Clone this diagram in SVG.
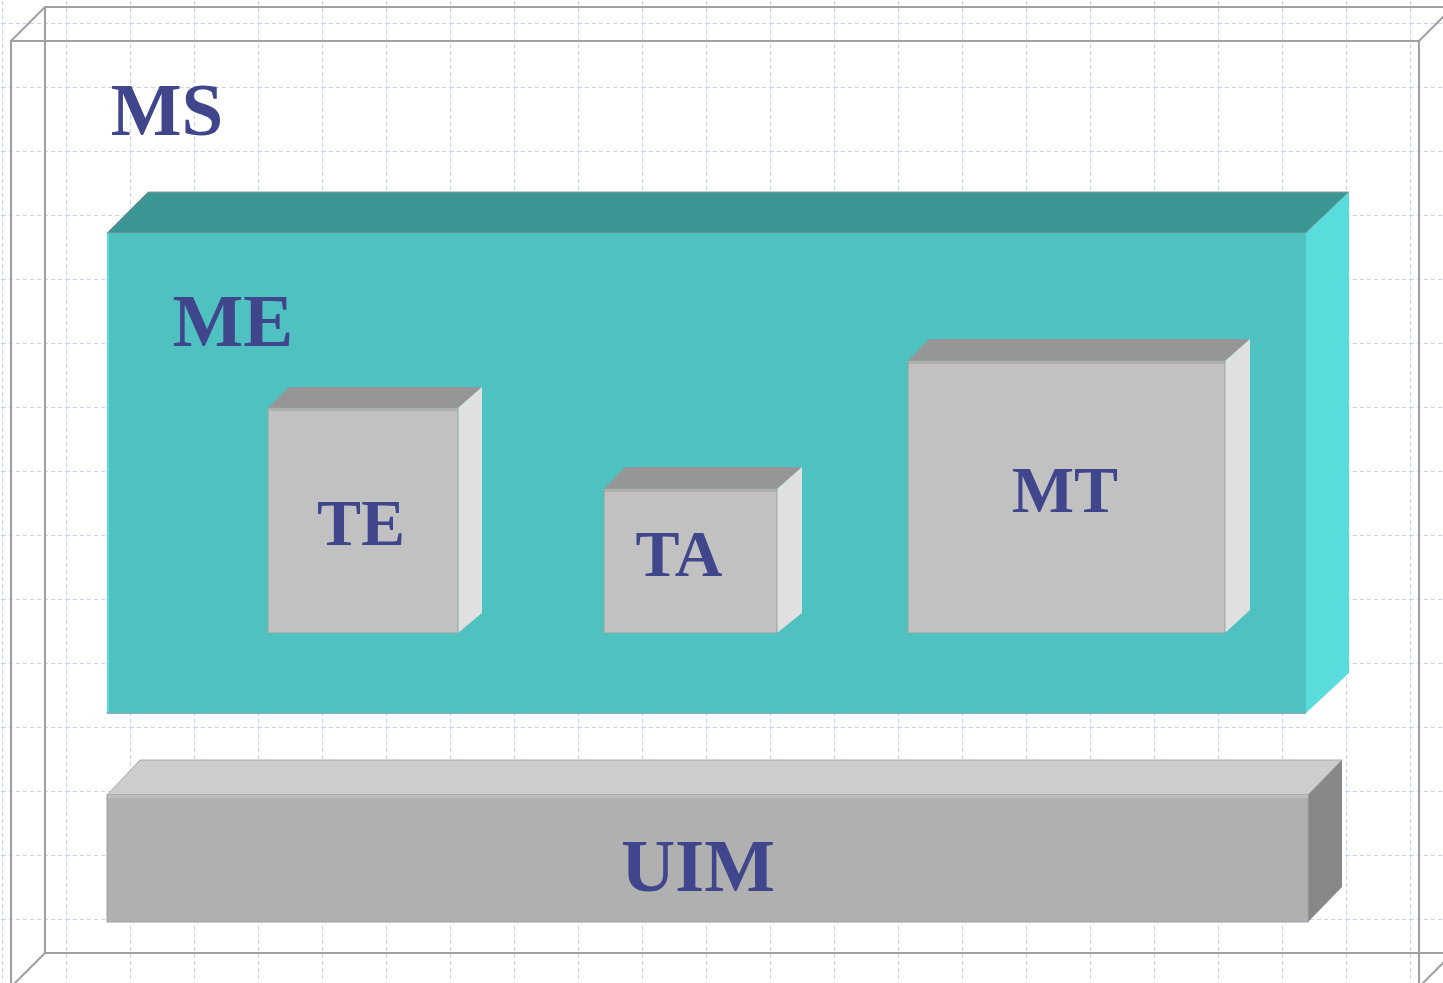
<svg xmlns="http://www.w3.org/2000/svg" width="1443" height="983" viewBox="0 0 1443 983">
  <defs>
    <pattern id="grid" x="2" y="23" width="64" height="64" patternUnits="userSpaceOnUse">
      <path d="M0 0.5 H64" stroke="#c5d2f5" stroke-width="1.2" stroke-dasharray="4 3" fill="none"/>
      <path d="M0.5 0 V64" stroke="#c5d2f5" stroke-width="1.2" stroke-dasharray="4 3" fill="none"/>
    </pattern>
  </defs>
  <style>
    .lbl { font-family: "Liberation Serif", "Times New Roman", serif; font-weight: bold; fill: #40468c; text-anchor: middle; }
    .big { font-size: 75px; }
    .small { font-size: 66px; }
    .frame { fill: none; stroke: #a0a0a0; stroke-width: 2; }
    .gtop { fill: #969696; }
    .gfront { fill: #c1c1c1; stroke: #8aa6a6; stroke-width: 1; }
    .gside { fill: #e0e0e0; }
  </style>
  <rect width="1443" height="983" fill="#ffffff"/>
  <rect width="1443" height="983" fill="url(#grid)"/>

  <g id="MS">
    <rect class="frame" x="45" y="7" width="1408" height="946"/>
    <rect class="frame" x="11" y="41" width="1408" height="946"/>
    <line class="frame" x1="11" y1="41" x2="45" y2="7"/>
    <line class="frame" x1="1419" y1="41" x2="1453" y2="7"/>
    <line class="frame" x1="11" y1="987" x2="45" y2="953"/>
    <line class="frame" x1="1419" y1="987" x2="1453" y2="953"/>
    <text class="lbl big" x="167" y="135">MS</text>
  </g>

  <g id="ME">
    <polygon points="107,233 148,192 1349,192 1306,233" fill="#3b9694" stroke="#8a9a9a" stroke-width="1"/>
    <polygon points="1306,233 1349,192 1349,673 1306,713" fill="#5adcdc"/>
    <rect x="107" y="233" width="1199" height="480" fill="#4fc1c0"/>
    <line x1="108" y1="234" x2="108" y2="712" stroke="#5adcdc" stroke-width="2"/>
    <line x1="107" y1="713.5" x2="1306" y2="713.5" stroke="#9ab" stroke-width="1"/>
    <text class="lbl big" x="233" y="346">ME</text>
  </g>

  <g id="TE">
    <polygon class="gtop" points="268,408 289,387 482,387 458,408"/>
    <polygon class="gside" points="458,408 482,387 482,613 458,633"/>
    <rect class="gfront" x="268" y="408" width="190" height="225"/>
    <rect x="269" y="408" width="189" height="3" fill="#afafaf"/>
    <text class="lbl small" x="361" y="545">TE</text>
  </g>

  <g id="TA">
    <polygon class="gtop" points="604,489 625,467 802,467 777,489"/>
    <polygon class="gside" points="777,489 802,467 802,613 777,633"/>
    <rect class="gfront" x="604" y="489" width="173" height="144"/>
    <rect x="605" y="489" width="172" height="3" fill="#afafaf"/>
    <text class="lbl small" x="679" y="576">TA</text>
  </g>

  <g id="MT">
    <polygon class="gtop" points="908,361 929,339 1250,339 1225,361"/>
    <polygon class="gside" points="1225,361 1250,339 1250,610 1225,633"/>
    <rect class="gfront" x="908" y="361" width="317" height="272"/>
    <rect x="909" y="361" width="316" height="3" fill="#afafaf"/>
    <text class="lbl small" x="1065" y="512">MT</text>
  </g>

  <g id="UIM">
    <polygon points="107,795 140,760 1342,760 1308,795" fill="#cdcdcd" stroke="#a8a8a8" stroke-width="1"/>
    <polygon points="1308,795 1342,760 1342,887 1308,922" fill="#888888"/>
    <rect x="107" y="795" width="1201" height="127" fill="#b0b0b0" stroke="#a0a0a0" stroke-width="1"/>
    <rect x="108" y="795" width="1200" height="3" fill="#bdbdbd"/>
    <text class="lbl big" x="698" y="891">UIM</text>
  </g>

  <g id="connectors"></g>
</svg>
